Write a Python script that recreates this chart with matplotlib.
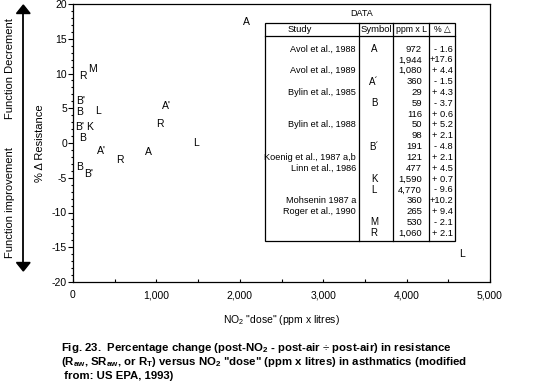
import matplotlib
matplotlib.use("Agg")
import matplotlib.pyplot as plt
from matplotlib.patches import Polygon, Rectangle

plt.rcParams["font.family"] = ["Liberation Sans", "DejaVu Sans"]
plt.rcParams["axes.unicode_minus"] = False
plt.rcParams["mathtext.fontset"] = "custom"
plt.rcParams["mathtext.rm"] = "Liberation Sans"
plt.rcParams["mathtext.bf"] = "Liberation Sans:bold"

# plotted study symbols (dose in ppm x L, % change in resistance)
symbols = ["A", "R", "M", "B'", "B", "L", "A'", "B'", "K", "R",
           "B", "L", "A'", "A", "R", "B", "B'", "L"]
dose = [2083, 116, 236, 88, 84, 300, 1124, 84, 195, 1040,
        116, 1475, 336, 908, 564, 84, 183, 4670]
change = [17.4, 9.6, 10.6, 6.1, 4.5, 4.6, 5.3, 2.35, 2.35, 2.8,
          0.7, 0.0, -1.15, -1.35, -2.45, -3.4, -4.5, -16.0]

# DATA table
tab_studies = ["Avol et al., 1988", "Avol et al., 1989", "Bylin et al., 1985",
               "Bylin et al., 1988", "Koenig et al., 1987 a,b", "Linn et al., 1986",
               "Mohsenin 1987 a", "Roger et al., 1990"]
tab_study_rows = [0, 2, 4, 7, 10, 11, 14, 15]
tab_symbols = ["A", "A\u00b4", "B", "B\u00b4", "K", "L", "M", "R"]
tab_symbol_rows = [0, 3, 5, 9, 12, 13, 16, 17]
tab_ppm = ["972", "1,944", "1,080", "360", "29", "59", "116", "50", "98",
           "191", "121", "477", "1,590", "4,770", "360", "265", "530", "1,060"]
tab_pct = ["- 1.6", "+17.6", "+ 4.4", "- 1.5", "+ 4.3", "- 3.7", "+ 0.6",
           "+ 5.2", "+ 2.1", "- 4.8", "+ 2.1", "+ 4.5", "+ 0.7", "- 9.6",
           "+10.2", "+ 9.4", "- 2.1", "+ 2.1"]

W, H = 540, 390
fig = plt.figure(figsize=(W / 100, H / 100), dpi=100)
ax = fig.add_axes([73 / W, 1 - 282 / H, (490 - 73) / W, (282 - 4) / H])
ax.set_xlim(0, 5000)
ax.set_ylim(-20, 20)
for s, x, y in zip(symbols, dose, change):
    ax.text(x, y, s, ha="center", va="center", fontsize=7.5)

ax.set_xticks(range(0, 5001, 1000))
ax.set_xticklabels([f"{v:,}" for v in range(0, 5001, 1000)])
ax.set_xticks(range(500, 5000, 1000), minor=True)
ax.set_yticks(range(-20, 21, 5))
ax.set_yticks(range(-20, 21, 1), minor=True)
ax.tick_params(axis="x", which="both", direction="in", length=2.5, width=0.8,
               pad=6, labelsize=7.5)
ax.tick_params(axis="y", which="major", direction="out", length=3.8, width=0.8,
               pad=0.5, labelsize=7.5)
ax.tick_params(axis="y", which="minor", direction="out", length=1.7, width=0.8)
for sp in ax.spines.values():
    sp.set_linewidth(0.9)
ax.set_xlabel(r'NO$_\mathrm{2}$ "dose" (ppm x litres)', fontsize=7.5, labelpad=9)
ax.set_ylabel("% \u0394 Resistance", fontsize=8, labelpad=5)

# overlay in pixel coordinates for table, arrow and caption
ov = fig.add_axes([0, 0, 1, 1])
ov.set_xlim(0, W)
ov.set_ylim(H, 0)
ov.axis("off")

ov.text(362, 14, "DATA", ha="center", va="center", fontsize=6.5)
ov.add_patch(Rectangle((265, 23.3), 455 - 265, 240.7 - 23.3, fill=False, lw=0.9))
ov.plot([265, 455], [36, 36], color="black", lw=0.9)
for cx in [359, 393, 429]:
    ov.plot([cx, cx], [23.3, 240.7], color="black", lw=0.9)
hy = 29.7
ov.text(300, hy, "Study", ha="center", va="center", fontsize=6.8)
ov.text(376, hy, "Symbol", ha="center", va="center", fontsize=6.8)
ov.text(411, hy, "ppm x L", ha="center", va="center", fontsize=6.3)
ov.text(442, hy, "% \u25b3", ha="center", va="center", fontsize=6.3)

row_y = [49 + i * 10.84 for i in range(len(tab_ppm))]
for s, r in zip(tab_studies, tab_study_rows):
    ov.text(356, row_y[r], s, ha="right", va="center", fontsize=6.6)
for s, r in zip(tab_symbols, tab_symbol_rows):
    ov.text(374, row_y[r], s, ha="center", va="center", fontsize=7)
for i, (p, c) in enumerate(zip(tab_ppm, tab_pct)):
    ov.text(422, row_y[i], p, ha="right", va="center", fontsize=6.8)
    ov.text(453, row_y[i], c, ha="right", va="center", fontsize=6.7)

# function arrow on the left
ov.plot([23.3, 23.3], [10, 266], color="black", lw=1.3)
ov.add_patch(Polygon([[23.3, 5], [16.5, 13.5], [30.1, 13.5]], closed=True, color="black"))
ov.add_patch(Polygon([[23.3, 271], [16.5, 262.5], [30.1, 262.5]], closed=True, color="black"))
ov.text(10, 69, "Function Decrement", rotation=90, ha="center", va="center", fontsize=8)
ov.text(10, 203, "Function improvement", rotation=90, ha="center", va="center", fontsize=8)

cap = [
    r"Fig. 23.  Percentage change (post-NO$_\mathbf{2}$ - post-air $\div$ post-air) in resistance",
    r'(R$_\mathbf{aw}$, SR$_\mathbf{aw}$, or R$_\mathbf{T}$) versus NO$_\mathbf{2}$ "dose" (ppm x litres) in asthmatics (modified',
    " from: US EPA, 1993)",
]
for i, line in enumerate(cap):
    ov.text(61, 348 + i * 13.8, line, ha="left", va="center", fontsize=8.2,
            fontweight="bold")

fig.savefig("out.png", dpi=100)
